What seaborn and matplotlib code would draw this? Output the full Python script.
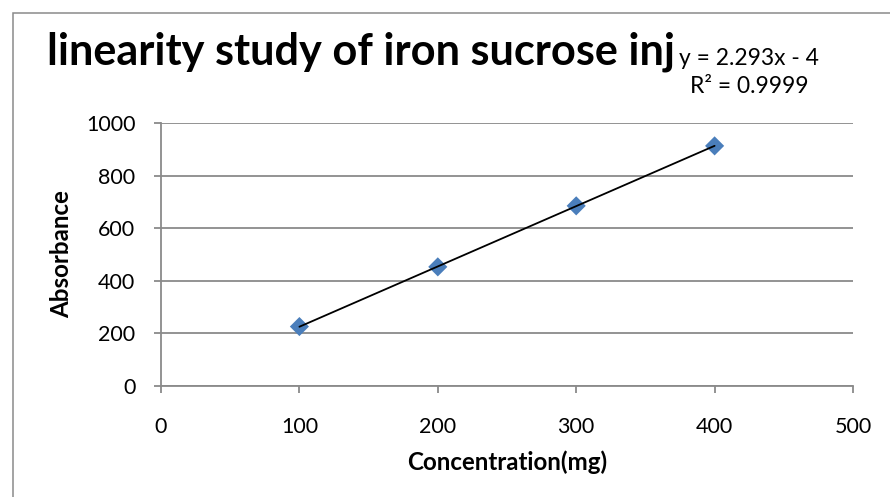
import matplotlib
matplotlib.use("Agg")
import matplotlib.pyplot as plt
import seaborn as sns
import numpy as np
import pandas as pd
from matplotlib.patches import Rectangle

concentration = [100, 200, 300, 400]
absorbance = [226, 453, 685, 913]
x_ticks = [0, 100, 200, 300, 400, 500]
y_ticks = [0, 200, 400, 600, 800, 1000]
title = "linearity study of iron sucrose inj"
x_label = "Concentration(mg)"
y_label = "Absorbance"
eq_text = "y = 2.293x - 4"
r2_text = "R² = 0.9999"

sns.set_style("white")
plt.rcParams["font.family"] = ["Lato", "DejaVu Sans"]
plt.rcParams["text.color"] = "black"

W, H = 890, 497
df = pd.DataFrame({"conc": concentration, "abs": absorbance})

fig = plt.figure(figsize=(W/100, H/100), dpi=100)
renderer = fig.canvas.get_renderer()

def width_px(s, size, weight="normal"):
    t = fig.text(0, 0, s, fontsize=size, fontweight=weight)
    w = t.get_window_extent(renderer).width
    t.remove()
    return w

def fit(s, target, weight="normal"):
    return 20 * target / width_px(s, 20, weight)

tick_fs = fit("1000", 50)
title_fs = fit(title, 628, "bold")
eq_fs = fit(eq_text, 139)
lab_fs = fit(x_label, 200, "bold")

ax = fig.add_axes([161/W, 1-386/H, (853-161)/W, (386-123)/H])

grey = "#8a8a8a"
fig.patches.append(Rectangle((12.5/W, -0.1), 1.2, 1-13/H+0.1, transform=fig.transFigure,
                             fill=False, edgecolor=grey, linewidth=1.1))

slope, intercept = np.polyfit(df["conc"], df["abs"], 1)
xx = np.array([min(concentration), max(concentration)])
sns.scatterplot(data=df, x="conc", y="abs", marker="D", s=95, color="#4a7ebb",
                edgecolor="none", ax=ax, zorder=3)
ax.plot(xx, slope*xx+intercept, color="black", lw=1.3, zorder=4)

ax.set_xlim(0, 500)
ax.set_ylim(0, 1000)
ax.set_xticks(x_ticks)
ax.set_yticks(y_ticks)
ax.set_xticklabels([str(v) for v in x_ticks], fontsize=tick_fs, color="black")
ax.set_yticklabels([str(v) for v in y_ticks], fontsize=tick_fs, color="black")
ax.yaxis.grid(True, color=grey, lw=1.3)
ax.xaxis.grid(False)
ax.set_axisbelow(True)
for s in ["top", "right"]:
    ax.spines[s].set_visible(False)
for s in ["left", "bottom"]:
    ax.spines[s].set_color(grey)
    ax.spines[s].set_linewidth(1.3)
ax.tick_params(axis="both", direction="out", length=5, color=grey, width=1.3,
               bottom=True, left=True)
ax.tick_params(axis="y", pad=13.5)
ax.tick_params(axis="x", pad=17)
ax.set_xlabel("")
ax.set_ylabel("")

fig.text(507/W, 1-462/H, x_label, fontsize=lab_fs, fontweight="bold",
         ha="center", va="center")
fig.text(62/W, 1-254/H, y_label, fontsize=lab_fs, fontweight="bold",
         ha="center", va="center", rotation=90)

fig.text(47/W, 1-65/H, title, fontsize=title_fs, fontweight="bold",
         ha="left", va="baseline")
fig.text(679/W, 1-65/H, eq_text, fontsize=eq_fs, ha="left", va="baseline")
fig.text(808/W, 1-93/H, r2_text, fontsize=eq_fs, ha="right", va="baseline")

fig.savefig("out.png", dpi=100)
